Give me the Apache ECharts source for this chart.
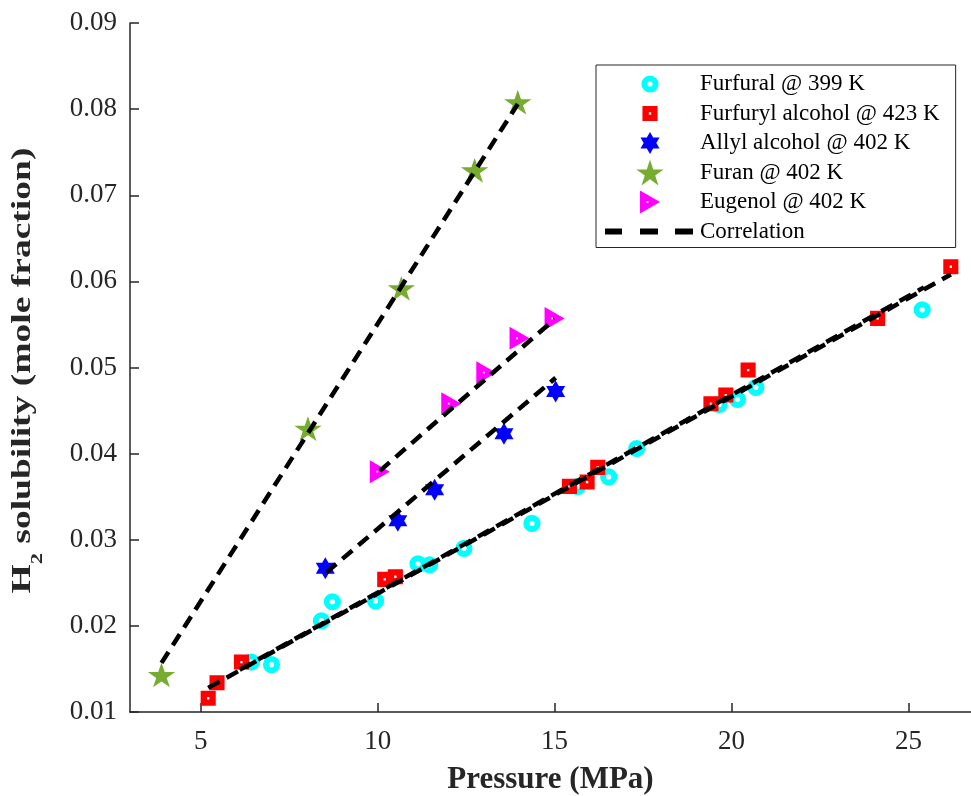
<!DOCTYPE html>
<html>
<head>
<meta charset="utf-8">
<script src="https://cdn.jsdelivr.net/npm/echarts@6/dist/echarts.min.js"></script>
<style>
html, body { margin: 0; padding: 0; background: #ffffff; }
#chart { width: 971px; height: 796px; }
</style>
</head>
<body>
<div id="chart"></div>
<script>
// ---------------- data ----------------
const furfuralP = [6.43, 7.00, 8.41, 8.72, 9.94, 11.14, 11.47, 12.44, 14.36, 15.65, 16.53, 17.32, 19.65, 20.17, 20.69, 25.39];
const furfuralX = [0.0158, 0.0155, 0.0206, 0.0228, 0.0229, 0.0272, 0.0271, 0.0290, 0.0319, 0.0362, 0.0373, 0.0406, 0.0457, 0.0463, 0.0477, 0.0567];

const furfurylP = [5.21, 5.46, 6.15, 10.20, 10.50, 15.42, 15.92, 16.22, 19.42, 19.84, 20.47, 24.13, 26.20];
const furfurylX = [0.0116, 0.0134, 0.0158, 0.0254, 0.0257, 0.0362, 0.0367, 0.0384, 0.0458, 0.0468, 0.0497, 0.0557, 0.0617];

const allylP = [8.52, 10.57, 11.61, 13.57, 15.03];
const allylX = [0.0267, 0.0322, 0.0358, 0.0423, 0.0472];

const furanP = [3.89, 8.03, 10.67, 12.74, 13.96];
const furanX = [0.0143, 0.0429, 0.0592, 0.0729, 0.0808];

const eugenolP = [10.06, 12.08, 13.07, 14.01, 15.00];
const eugenolX = [0.0379, 0.0458, 0.0494, 0.0534, 0.0557];

// correlation lines (end points)
const corrFuranP = [3.89, 13.96];      const corrFuranX = [0.0157, 0.0806];
const corrEugenolP = [10.06, 15.00];   const corrEugenolX = [0.0380, 0.0556];
const corrAllylP = [8.55, 15.03];      const corrAllylX = [0.0262, 0.0488];
const corrFurfurylP = [5.21, 26.20];   const corrFurfurylX = [0.0128, 0.0608];
const corrFurfuralP = [6.10, 25.44];   const corrFurfuralX = [0.0149, 0.0593];

const xTicks = [5, 10, 15, 20, 25];
const yTicks = [0.01, 0.02, 0.03, 0.04, 0.05, 0.06, 0.07, 0.08, 0.09];

const seriesNames = ['Furfural @ 399 K', 'Furfuryl alcohol @ 423 K', 'Allyl alcohol @ 402 K', 'Furan @ 402 K', 'Eugenol @ 402 K'];
const corrName = 'Correlation';

// ---------------- marker shapes ----------------
const FRAME = ' M0,0 M100,100';
const RING = 'path://M17,50 A33,33 0 1,1 83,50 A33,33 0 1,1 17,50 Z M40,50 A10,10 0 1,0 60,50 A10,10 0 1,0 40,50 Z' + FRAME;
const SQUARE = 'path://M21,21 L79,21 L79,79 L21,79 Z M45.5,45.5 L45.5,54.5 L54.5,54.5 L54.5,45.5 Z' + FRAME;
const HEXAGRAM = 'path://M50,7.7 L62.2,28.87 L86.63,28.85 L74.4,50 L86.63,71.15 L62.2,71.13 L50,92.3 L37.8,71.13 L13.37,71.15 L25.6,50 L13.37,28.85 L37.8,28.87 Z' + FRAME;
const STAR = 'path://M50,0 L62.41,38.19 L102.58,38.2 L70.09,61.81 L82.49,100 L50,76.4 L17.51,100 L29.91,61.81 L-2.58,38.2 L37.59,38.19 Z';
const TRIANGLE = 'path://M11.5,5.75 L88.5,50 L11.5,94.25 Z M37,46.5 L37,53.5 L44,53.5 L44,46.5 Z' + FRAME;
const DASHES = 'path://M0,0 M90,26 M0,10 L17,10 L17,16 L0,16 Z M35,10 L53,10 L53,16 L35,16 Z M70,10 L88,10 L88,16 L70,16 Z';

function pairs(xs, ys) { return xs.map(function (x, i) { return [x, ys[i]]; }); }

function scatter(name, xs, ys, symbol, size, color) {
  return {
    name: name, type: 'scatter', data: pairs(xs, ys),
    symbol: symbol, symbolSize: size, symbolKeepAspect: true,
    itemStyle: { color: color, borderWidth: 0, opacity: 1 },
    emphasis: { disabled: true }, silent: true, z: 3
  };
}
function corr(xs, ys) {
  return {
    name: corrName, type: 'line', data: pairs(xs, ys),
    symbol: 'none', showSymbol: false,
    lineStyle: { color: '#000000', width: 4.5, type: [13, 8], cap: 'butt', opacity: 1 },
    itemStyle: { color: '#000000' },
    emphasis: { disabled: true }, silent: true, z: 5
  };
}

const axisColor = '#262626';
const serif = 'Liberation Serif';

const chart = echarts.init(document.getElementById('chart'), null, { renderer: 'canvas' });
chart.setOption({
  animation: false,
  backgroundColor: '#ffffff',
  grid: { left: 130, right: 0, top: 23, bottom: 84, containLabel: false, outerBoundsMode: 'none' },
  xAxis: {
    type: 'value', min: 3, max: 26.77,
    axisLine: { show: true, onZero: false, lineStyle: { color: axisColor, width: 1.5 } },
    axisTick: { show: true, inside: true, length: 9, customValues: xTicks, lineStyle: { color: axisColor, width: 1.5 } },
    axisLabel: { customValues: xTicks, fontFamily: serif, fontSize: 27, color: axisColor, margin: 16 },
    splitLine: { show: false },
    name: 'Pressure (MPa)', nameLocation: 'middle', nameGap: 52, nameMoveOverlap: false,
    nameTextStyle: { fontFamily: serif, fontWeight: 'bold', fontSize: 31, color: axisColor }
  },
  yAxis: {
    type: 'value', min: 0.01, max: 0.09,
    axisLine: { show: true, onZero: false, lineStyle: { color: axisColor, width: 1.5 } },
    axisTick: { show: true, inside: true, length: 9, customValues: yTicks, lineStyle: { color: axisColor, width: 1.5 } },
    axisLabel: { customValues: yTicks, fontFamily: serif, fontSize: 27, color: axisColor, margin: 13,
      formatter: function (v) { return v.toFixed(2); } },
    splitLine: { show: false }
  },
  legend: {
    left: 596, top: 65, orient: 'vertical',
    itemWidth: 90, itemHeight: 26, itemGap: 3.5,
    padding: [6, 16, 3, 9],
    backgroundColor: '#ffffff', borderColor: axisColor, borderWidth: 1, borderRadius: 0,
    textStyle: { fontFamily: serif, fontSize: 23, color: '#000000' },
    itemStyle: { borderWidth: 0, opacity: 1 },
    selectedMode: false,
    data: [
      { name: seriesNames[0] }, { name: seriesNames[1] }, { name: seriesNames[2] },
      { name: seriesNames[3] }, { name: seriesNames[4] },
      { name: corrName, icon: DASHES, itemStyle: { color: '#000000', borderWidth: 0 } }
    ]
  },
  graphic: [{
    type: 'text', x: 27.75, y: 370.5, rotation: Math.PI / 2, scaleX: 1.39, silent: true,
    style: {
      text: '{b|H}{s|2}{b| solubility (mole fraction)}',
      align: 'center', verticalAlign: 'middle',
      rich: {
        b: { fontFamily: serif, fontWeight: 'bold', fontSize: 27, lineHeight: 27, verticalAlign: 'top', fill: axisColor },
        s: { fontFamily: serif, fontWeight: 'bold', fontSize: 16, lineHeight: 35.5, verticalAlign: 'bottom', fill: axisColor }
      }
    }
  }],
  series: [
    scatter(seriesNames[0], furfuralP, furfuralX, RING, 26, '#00FFFF'),
    scatter(seriesNames[1], furfurylP, furfurylX, SQUARE, 26, '#FF0000'),
    scatter(seriesNames[2], allylP, allylX, HEXAGRAM, 26, '#0000FF'),
    scatter(seriesNames[3], furanP, furanX, STAR, [27.4, 26], '#77AC30'),
    scatter(seriesNames[4], eugenolP, eugenolX, TRIANGLE, 26, '#FF00FF'),
    corr(corrFuranP, corrFuranX),
    corr(corrEugenolP, corrEugenolX),
    corr(corrAllylP, corrAllylX),
    corr(corrFurfurylP, corrFurfurylX),
    corr(corrFurfuralP, corrFurfuralX)
  ]
});
</script>
</body>
</html>
